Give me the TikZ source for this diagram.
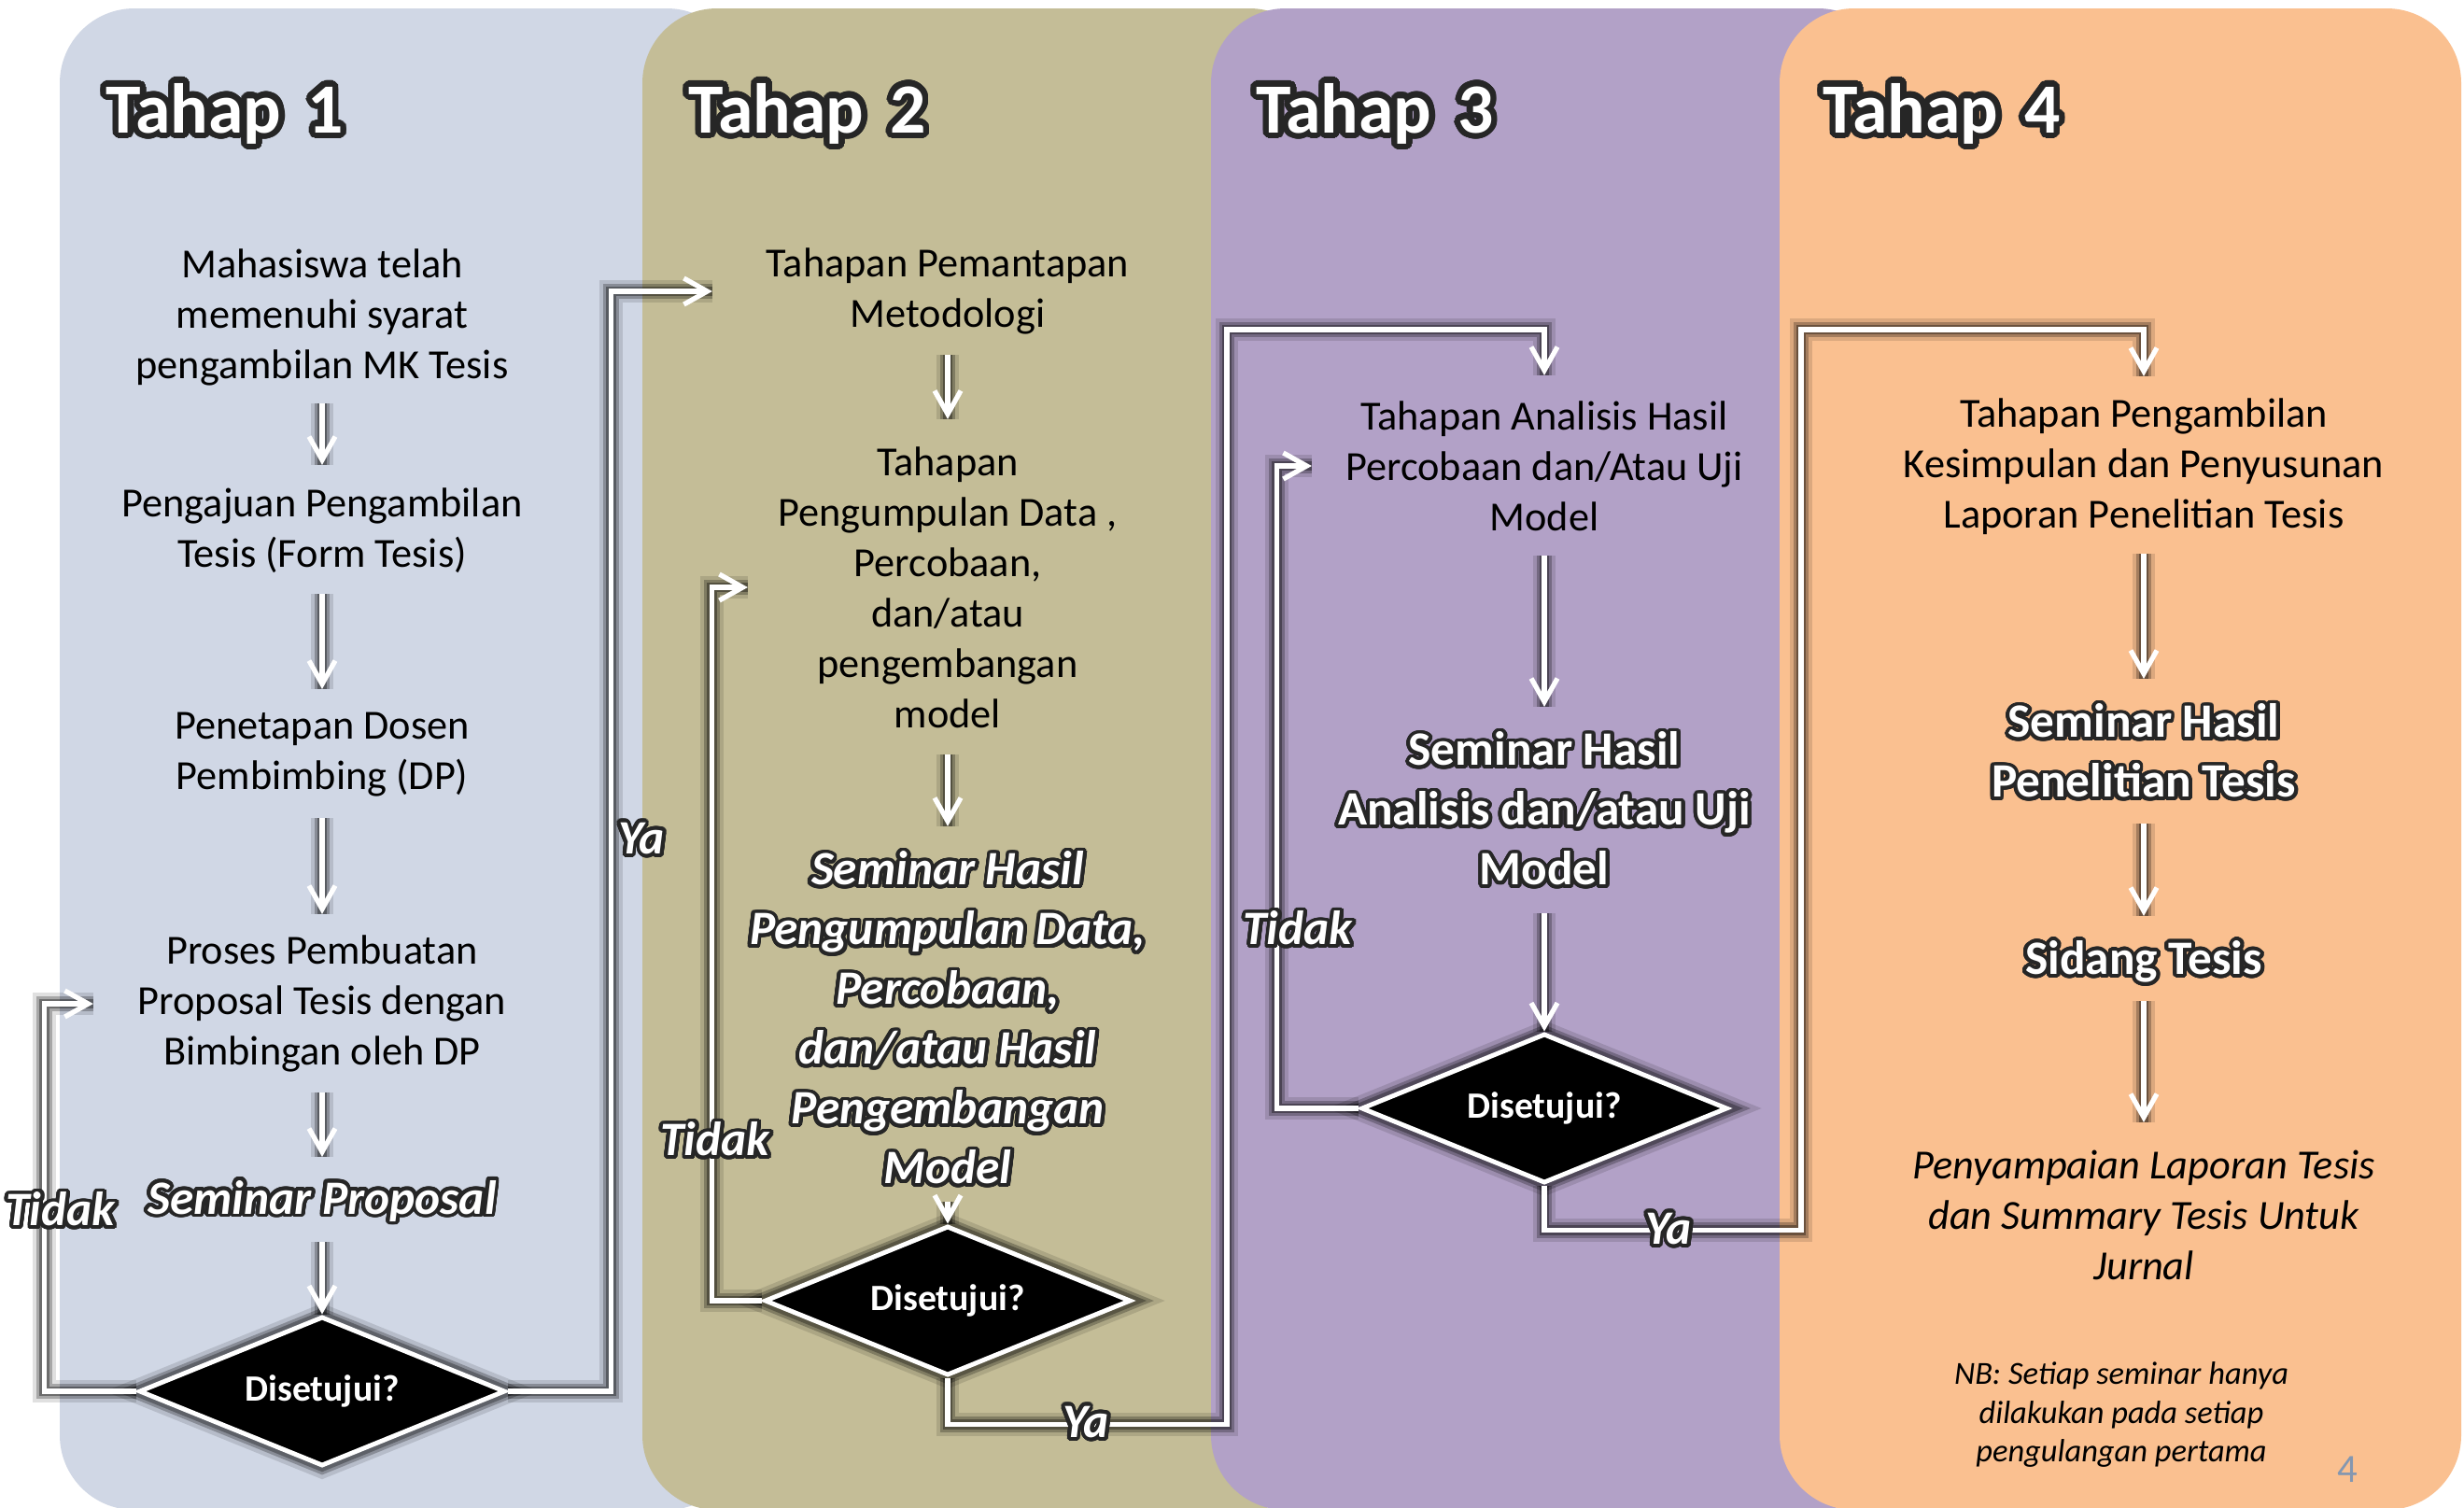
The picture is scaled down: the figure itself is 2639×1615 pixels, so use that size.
\documentclass[tikz,border=0pt]{standalone}
\usepackage{fontspec}
\setmainfont{Carlito}
\usepackage{contour}
\usetikzlibrary{arrows.meta,shapes.geometric}

\contournumber{32}
\contourlength{1.1pt}
\newcommand{\glow}[1]{\contour{black!85}{#1}}

\definecolor{tahapsatu}{HTML}{D0D7E5}
\definecolor{tahapdua}{HTML}{C4BD97}
\definecolor{tahaptiga}{HTML}{B2A1C7}
\definecolor{tahapempat}{HTML}{FAC090}
\definecolor{halaman}{HTML}{8497B0}

\tikzset{
  panel/.style={rounded corners=0.8cm},
  judul/.style={anchor=base west, inner sep=0pt, text=white,
    font=\fontsize{21.5}{26}\selectfont\bfseries},
  body/.style={align=center, inner sep=0pt,
    font=\fontsize{12.6}{15.36}\selectfont},
  bodyit/.style={body, font=\fontsize{12.6}{15.36}\selectfont\itshape},
  catatan/.style={align=center, inner sep=0pt,
    font=\fontsize{9.8}{11.7}\selectfont\itshape},
  seminar/.style={align=center, inner sep=0pt, text=white,
    font=\fontsize{14.6}{18.2}\selectfont\bfseries\itshape},
  seminarup/.style={seminar, font=\fontsize{14.6}{18.2}\selectfont\bfseries},
  jawab/.style={inner sep=0pt, text=white,
    font=\fontsize{14.6}{18}\selectfont\bfseries\itshape},
  keputusan/.style={diamond, aspect=2.5, fill=black, draw=white, line width=1.4pt,
    minimum width=3.92cm, minimum height=1.6cm, inner sep=0pt, text=white,
    font=\fontsize{11.3}{13}\selectfont\bfseries,
    preaction={draw=black, draw opacity=0.12, line width=8pt},
    preaction={draw=black, draw opacity=0.25, line width=5.5pt},
    preaction={draw=black, draw opacity=0.3, line width=3.8pt}},
  alur/.style={draw=white, line width=1.5pt,
    -{Straight Barb[length=2.5mm,width=2.8mm]},
    preaction={draw=black, draw opacity=0.12, line width=7pt, arrows=-},
    preaction={draw=black, draw opacity=0.25, line width=4.6pt, arrows=-},
    preaction={draw=black, draw opacity=0.35, line width=3pt, arrows=-}},
}

\begin{document}
\begin{tikzpicture}[x=0.01cm, y=-0.01cm]
  \useasboundingbox (0,0) rectangle (2639,1615);
  \clip (0,0) rectangle (2639,1615);
  \fill[white] (0,0) rectangle (2639,1615);

  % panels
  \fill[tahapsatu, panel] (64,9) rectangle (794,1617);
  \fill[tahapdua, panel] (688,9) rectangle (1418,1617);
  \fill[tahaptiga, panel] (1297,9) rectangle (2027,1617);
  \fill[tahapempat, panel] (1906,9) rectangle (2636,1617);

  \begingroup\contourlength{1.8pt}
  \node[judul] (j1) at (113,142) {\glow{Tahap\hspace{0.28cm}1}};
  \node[judul] (j2) at (737,142) {\glow{Tahap\hspace{0.28cm}2}};
  \node[judul] (j3) at (1345,142) {\glow{Tahap\hspace{0.28cm}3}};
  \node[judul] (j4) at (1952,142) {\glow{Tahap\hspace{0.28cm}4}};
  \endgroup

  % Tahap 1
  \node[body] (n1) at (345,340) {Mahasiswa telah\\memenuhi syarat\\pengambilan MK Tesis};
  \node[body] (n2) at (345,568) {Pengajuan Pengambilan\\Tesis (Form Tesis)};
  \node[body] (n3) at (345,808) {Penetapan Dosen\\Pembimbing (DP)};
  \node[body] (n4) at (345,1075) {Proses Pembuatan\\Proposal Tesis dengan\\Bimbingan oleh DP};
  \node[seminar] (n5) at (345,1288) {\glow{Seminar Proposal}};
  \node[keputusan] (d1) at (345,1490) {Disetujui?};

  % Tahap 2
  \node[body] (m1) at (1015,312) {Tahapan Pemantapan\\Metodologi};
  \node[body] (m2) at (1015,629) {Tahapan\\Pengumpulan Data ,\\Percobaan,\\dan/atau\\pengembangan\\model};
  \node[seminar] (m3) at (1015,1092) {\glow{Seminar Hasil}\\\glow{Pengumpulan Data,}\\\glow{Percobaan,}\\\glow{dan/atau Hasil}\\\glow{Pengembangan}\\\glow{Model}};
  \node[keputusan] (d2) at (1015,1393) {Disetujui?};

  % Tahap 3
  \node[body] (p1) at (1654,499) {Tahapan Analisis Hasil\\Percobaan dan/Atau Uji\\Model};
  \node[seminarup] (p2) at (1654,868) {\glow{Seminar Hasil}\\\glow{Analisis dan/atau Uji}\\\glow{Model}};
  \node[keputusan] (d3) at (1654,1187) {Disetujui?};

  % Tahap 4
  \node[body] (q1) at (2296,500) {Tahapan Pengambilan\\Kesimpulan dan Penyusunan\\Laporan Penelitian Tesis};
  \node[seminarup] (q2) at (2296,806) {\glow{Seminar Hasil}\\\glow{Penelitian Tesis}};
  \node[seminarup] (q3) at (2296,1032) {\glow{Sidang Tesis}};
  \node[bodyit] (q4) at (2296,1301) {Penyampaian Laporan Tesis\\dan Summary Tesis Untuk\\Jurnal};
  \node[catatan] (nb) at (2272,1515) {NB: Setiap seminar hanya\\dilakukan pada setiap\\pengulangan pertama};
  \node[text=halaman, font=\fontsize{12.2}{14}\selectfont, inner sep=0pt] (hal) at (2514,1574) {4};

  % alur lurus
  \draw[alur, shorten <=9.2mm, shorten >=7mm] (n1.center) -- (n2.center);
  \draw[alur, shorten <=6.8mm, shorten >=7mm] (n2.center) -- (n3.center);
  \draw[alur, shorten <=6.8mm, shorten >=9.6mm] (n3.center) -- (n4.center);
  \draw[alur, shorten <=9.5mm, shorten >=4.9mm] (n4.center) -- (n5.center);
  \draw[alur, shorten <=4.2mm] (n5.center) -- (d1.north);
  \draw[alur, shorten <=6.8mm, shorten >=18mm] (m1.center) -- (m2.center);
  \draw[alur, shorten <=17.9mm, shorten >=20.7mm] (m2.center) -- (m3.center);
  \draw[alur, shorten <=19.5mm] (m3.center) -- (d2.north);
  \draw[alur, shorten <=9.6mm, shorten >=11.1mm] (p1.center) -- (p2.center);
  \draw[alur, shorten <=11mm] (p2.center) -- (d3.north);
  \draw[alur, shorten <=9.3mm, shorten >=7.9mm] (q1.center) -- (q2.center);
  \draw[alur, shorten <=7.6mm, shorten >=5.1mm] (q2.center) -- (q3.center);
  \draw[alur, shorten <=4mm, shorten >=9.9mm] (q3.center) -- (q4.center);

  % alur keputusan
  \draw[alur] (d1.west) -- ++(-99,0) |- ([xshift=-24.5mm]n4.center);
  \draw[alur] (d1.east) -- ++(111,0) |- ([xshift=-25.2mm]m1.center);
  \draw[alur] (d2.west) -- ++(-54,0) |- ([xshift=-21.4mm]m2.center);
  \draw[alur] (d2.south) -- ++(0,50) -| (1314,353) -| ([yshift=9.7mm]p1.center);
  \draw[alur] (d3.west) -- ++(-88,0) |- ([xshift=-24.9mm]p1.center);
  \draw[alur] (d3.south) -- ++(0,48) -| (1929,353) -| ([yshift=9.7mm]q1.center);

  \node[jawab] (t1) at (65,1297) {\glow{Tidak}};
  \node[jawab] (y1) at (687,900) {\glow{Ya}};
  \node[jawab] (t2) at (766,1222) {\glow{Tidak}};
  \node[jawab] (y2) at (1163,1525) {\glow{Ya}};
  \node[jawab] (t3) at (1390,996) {\glow{Tidak}};
  \node[jawab] (y3) at (1787,1318) {\glow{Ya}};
\end{tikzpicture}
\end{document}
